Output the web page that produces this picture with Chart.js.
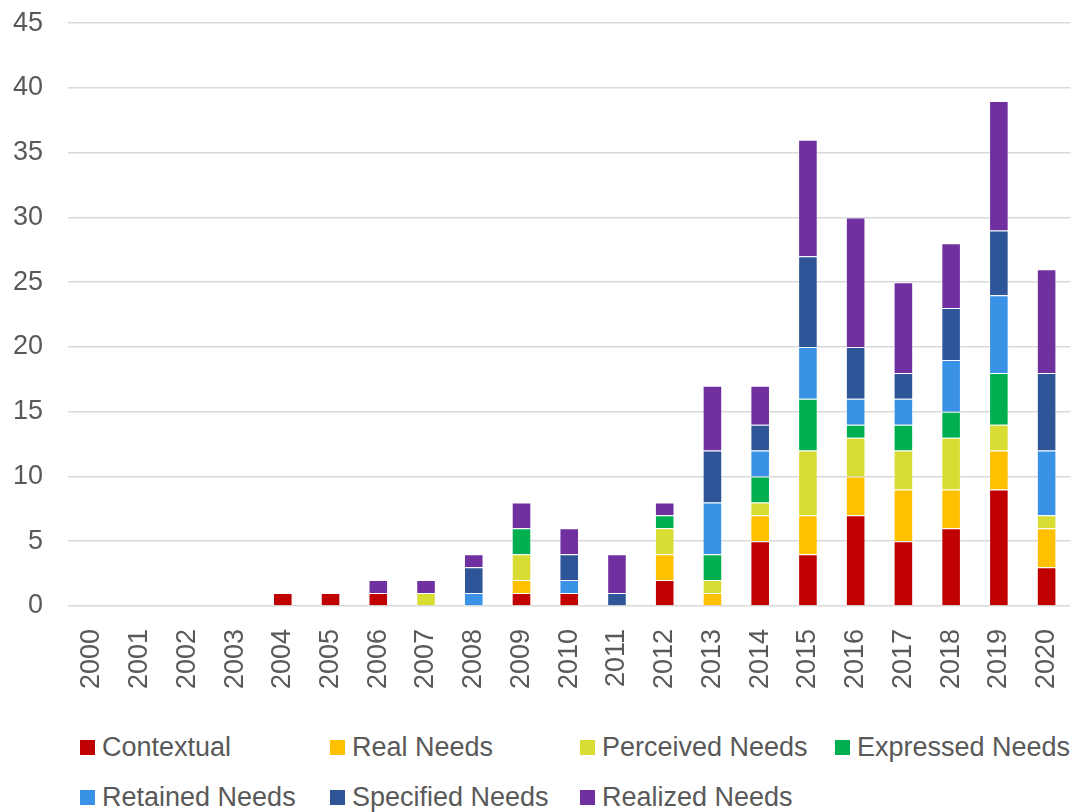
<!DOCTYPE html>
<html>
<head>
<meta charset="utf-8">
<script src="https://cdn.jsdelivr.net/npm/chart.js@4/dist/chart.umd.min.js"></script>
<style>
  html, body { margin: 0; padding: 0; background: #fff; }
  #wrap { position: relative; width: 1078px; height: 812px; overflow: hidden; }
  #box { position: absolute; left: 0; top: -18px; width: 1094px; height: 708px; }
  #legend { position: absolute; left: 80px; top: 732px; width: 1000px; }
  .item { position: absolute; display: flex; align-items: center; white-space: nowrap;
          font-family: "Liberation Sans", Arial, sans-serif; font-size: 27px; color: #595959; }
  .item span.sw { width: 15px; height: 15px; margin-right: 7px; display: inline-block; }
</style>
</head>
<body>
<div id="wrap">
  <div id="box"><canvas id="chart"></canvas></div>
  <div id="legend"></div>
</div>
<script>
const years = ["2000","2001","2002","2003","2004","2005","2006","2007","2008","2009","2010",
               "2011","2012","2013","2014","2015","2016","2017","2018","2019","2020"];

const contextual = [0,0,0,0,1,1,1,0,0,1,1,0,2,0,5,4,7,5,6,9,3];
const realNeeds  = [0,0,0,0,0,0,0,0,0,1,0,0,2,1,2,3,3,4,3,3,3];
const perceived  = [0,0,0,0,0,0,0,1,0,2,0,0,2,1,1,5,3,3,4,2,1];
const expressed  = [0,0,0,0,0,0,0,0,0,2,0,0,1,2,2,4,1,2,2,4,0];
const retained   = [0,0,0,0,0,0,0,0,1,0,1,0,0,4,2,4,2,2,4,6,5];
const specified  = [0,0,0,0,0,0,0,0,2,0,2,1,0,4,2,7,4,2,4,5,6];
const realized   = [0,0,0,0,0,0,1,1,1,2,2,3,1,5,3,9,10,7,5,10,8];

const yTicks = [0, 5, 10, 15, 20, 25, 30, 35, 40, 45];

const series = [
  { label: "Contextual",      data: contextual, color: "#C00000" },
  { label: "Real Needs",      data: realNeeds,  color: "#FFC000" },
  { label: "Perceived Needs", data: perceived,  color: "#D9DC33" },
  { label: "Expressed Needs", data: expressed,  color: "#00B050" },
  { label: "Retained Needs",  data: retained,   color: "#3A92E6" },
  { label: "Specified Needs", data: specified,  color: "#2E5597" },
  { label: "Realized Needs",  data: realized,   color: "#7030A0" }
];

const font = { family: "'Liberation Sans', Arial, sans-serif", size: 27 };

new Chart(document.getElementById("chart"), {
  type: "bar",
  data: {
    labels: years,
    datasets: series.map(s => ({
      label: s.label,
      data: s.data,
      backgroundColor: s.color,
      borderColor: "rgba(255,255,255,0.35)",
      borderWidth: 1,
      barPercentage: 0.41,
      categoryPercentage: 1
    }))
  },
  options: {
    responsive: true,
    maintainAspectRatio: false,
    animation: false,
    layout: { padding: { top: 5, right: 0, left: 0, bottom: 0 } },
    plugins: { legend: { display: false }, tooltip: { enabled: false } },
    scales: {
      x: {
        stacked: true,
        grid: { display: false },
        border: { display: false },
        ticks: { color: "#595959", font: font, minRotation: 90, maxRotation: 90, padding: 15 },
        afterFit: (scale) => { scale.height = 84; }
      },
      y: {
        stacked: true,
        min: 0,
        max: 45,
        afterBuildTicks: (scale) => { scale.ticks = yTicks.map(v => ({ value: v })); },
        grid: { color: "#d9d9d9", lineWidth: 1.5, drawTicks: false },
        border: { display: false },
        ticks: { color: "#595959", font: font, padding: 25 },
        afterFit: (scale) => { scale.width = 68; }
      }
    }
  }
});

// legend laid out in fixed columns like the original
const legend = document.getElementById("legend");
const colX = [0, 250, 500, 755];
series.forEach((s, i) => {
  const el = document.createElement("div");
  el.className = "item";
  el.style.left = colX[i % 4] + "px";
  el.style.top = (Math.floor(i / 4) * 50) + "px";
  el.innerHTML = `<span class="sw" style="background:${s.color}"></span>${s.label}`;
  legend.appendChild(el);
});
</script>
</body>
</html>
